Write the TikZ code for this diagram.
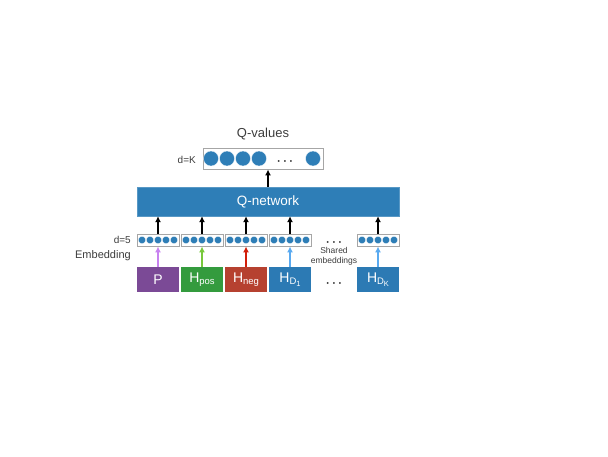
\documentclass[tikz,border=0pt]{standalone}
\usepackage{fontspec}
\setmainfont{Liberation Sans}
\usepackage{tikz}
\usetikzlibrary{calc,shapes,arrows,arrows.meta}

\definecolor{qblue}{RGB}{46,126,183}
\definecolor{ppurple}{RGB}{123,74,150}
\definecolor{pgreen}{RGB}{52,155,62}
\definecolor{pred}{RGB}{182,65,48}
\definecolor{dblue}{RGB}{44,122,180}
\definecolor{apurple}{RGB}{200,130,240}
\definecolor{agreen}{RGB}{120,200,60}
\definecolor{ared}{RGB}{210,30,10}
\definecolor{ablue}{RGB}{90,170,240}
\definecolor{txtgray}{RGB}{60,60,60}

\tikzset{
    inbox/.style={rectangle, minimum width=42pt, minimum height=25pt, inner sep=0pt,
        text=white, font=\fontsize{14}{14}\selectfont},
    embbox/.style={rectangle, draw=gray!70, line width=0.9pt, minimum width=42pt,
        minimum height=12pt, inner sep=0pt},
    dot/.style={circle, fill=qblue, draw=white, line width=0.3pt, inner sep=0pt},
    uparrow/.style={-{Latex[length=6pt,width=6pt]}, line width=1.3pt},
    lbl/.style={text=txtgray, inner sep=0pt},
    ellip/.style={inner sep=0pt, text=black!85, font=\fontsize{13}{13}\selectfont\boldmath}
}

\newcommand{\sub}[1]{\raisebox{-0.35ex}{\fontsize{9.5}{9.5}\selectfont #1}}
\newcommand{\subsub}[1]{\raisebox{-0.35ex}{\fontsize{7.5}{7.5}\selectfont #1}}

\begin{document}
\begin{tikzpicture}[x=1pt,y=-1pt]
    \useasboundingbox (0,0) rectangle (608,456);

    % Q-network and Q-values
    \node[rectangle, fill=qblue, draw=qblue!80!white, minimum width=262pt, minimum height=29pt,
        inner sep=0pt, text=white, font=\fontsize{13.5}{13.5}\selectfont] (qnet) at (268,201.5) {Q-network};
    \node[rectangle, draw=gray!70, line width=0.9pt, minimum width=120pt, minimum height=21pt,
        inner sep=0pt] (qval) at (263,158.5) {};
    \foreach \x in {211, 227, 243, 259, 313}
        \node[dot, minimum size=15pt] at (\x,158.5) {};
    \node[ellip] (qdots) at (285,161.5) {$\cdots$};
    \node[lbl, font=\fontsize{13}{13}\selectfont] (qlab) at (263,134) {Q-values};
    \node[lbl, font=\fontsize{10}{10}\selectfont, anchor=east] (dk) at (196,160) {d=K};
    \draw[uparrow] (qnet.north) -- (qnet.north |- qval.south);

    % inputs and embeddings
    \node[inbox, fill=ppurple] (in1) at (158,279.5) {P};
    \node[inbox, fill=pgreen] (in2) at (202,279.5) {H\sub{pos}};
    \node[inbox, fill=pred] (in3) at (246,279.5) {H\sub{neg}};
    \node[inbox, fill=dblue] (in4) at (290,279.5) {H\sub{D\subsub{1}}};
    \node[inbox, fill=dblue] (in5) at (378,279.5) {H\sub{D\subsub{K}}};

    \foreach \i/\x in {1/158, 2/202, 3/246, 4/290, 5/378} {
        \node[embbox] (emb\i) at (\x,240) {};
        \foreach \d in {-16,-8,0,8,16}
            \node[dot, minimum size=7.5pt] at (\x+\d,240) {};
        \draw[uparrow] (emb\i.north) -- (emb\i.north |- qnet.south);
    }

    \draw[uparrow, apurple] (in1.north) -- (emb1.south);
    \draw[uparrow, agreen] (in2.north) -- (emb2.south);
    \draw[uparrow, ared] (in3.north) -- (emb3.south);
    \draw[uparrow, ablue] (in4.north) -- (emb4.south);
    \draw[uparrow, ablue] (in5.north) -- (emb5.south);

    \node[ellip] (edots) at (334,242.5) {$\cdots$};
    \node[ellip] (idots) at (334,283.5) {$\cdots$};
    \node[lbl, align=center, font=\fontsize{8.5}{10}\selectfont] (shared) at (334,256)
        {Shared\\embeddings};
    \node[lbl, font=\fontsize{10}{10}\selectfont, anchor=east] (d5) at (131,240) {d=5};
    \node[lbl, font=\fontsize{11}{11}\selectfont, anchor=east] (embl) at (131,256) {Embedding};
\end{tikzpicture}
\end{document}
